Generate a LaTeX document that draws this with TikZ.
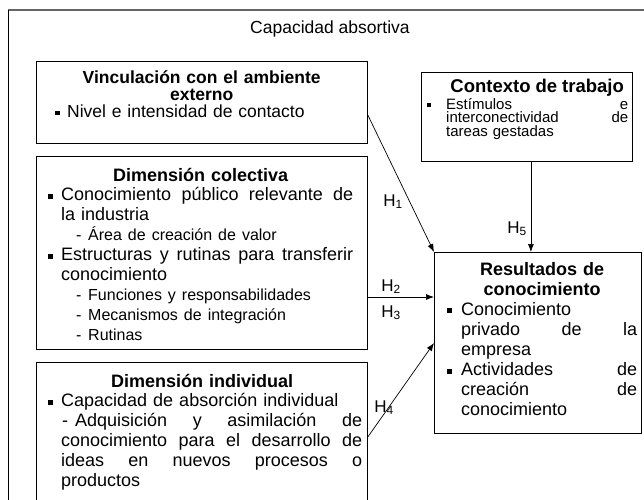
\documentclass[tikz,border=0pt]{standalone}
\usepackage{fontspec}
\setmainfont{Liberation Sans}
\usetikzlibrary{arrows.meta}
\newcommand\bsq[2]{\rule[#1]{#2}{#2}}
\newcommand\jline[2]{{\spaceskip=0.278em plus 1fil\relax\hspace*{#1}\makebox[\dimexpr\linewidth-#1\relax][s]{#2}}}
\newcommand\pline[2]{\hspace*{#1}\makebox[\dimexpr\linewidth-#1\relax][l]{#2}}
\newcommand\ctrline[1]{\makebox[\linewidth]{#1}}
\begin{document}
\begin{tikzpicture}[x=1pt,y=-1pt,
  boxnode/.style={draw, line width=0.8pt, inner sep=0pt, anchor=north west},
  txt/.style={inner sep=0pt, anchor=base west},
  arr/.style={-{Latex[length=8pt,width=6pt]}, line width=0.7pt},
  hlab/.style={inner sep=0pt, anchor=base, font=\fontsize{17}{19}\selectfont}]
\useasboundingbox (0,0) rectangle (644,499);
\begin{scope}
\clip (0,0) rectangle (644,499);
% outer frame
\draw[line width=1.6pt, black!60] (7.6,10) -- (660,10);
\draw[line width=0.8pt] (8,9.5) -- (8,520);
\node[inner sep=0pt, anchor=base, font=\fontsize{17.5}{18}\selectfont] (cap) at (330,33) {Capacidad absortiva};
% boxes
\node[boxnode, minimum width=331pt, minimum height=82pt] (vinc) at (36,61) {};
\node[boxnode, minimum width=331pt, minimum height=193pt] (colec) at (36,156) {};
\node[boxnode, minimum width=331pt, minimum height=170pt] (indiv) at (36,362) {};
\node[boxnode, minimum width=211pt, minimum height=89pt] (ctx) at (421,72) {};
\node[boxnode, minimum width=207pt, minimum height=181pt] (res) at (434,252) {};
% texts
\node[txt, text width=311pt, font=\fontsize{17.5}{17.2}\selectfont] (vinct) at (46,83) {%
\ctrline{\textbf{Vinculación con el ambiente}}\\
\ctrline{\textbf{externo}}\\
\pline{9pt}{\makebox[12pt][l]{\bsq{2pt}{4.5pt}}Nivel e intensidad de contacto}};
\node[txt, text width=305pt, font=\fontsize{18}{19.9}\selectfont] (colect) at (48,181) {%
\ctrline{\textbf{Dimensión colectiva}}\\
\jline{0pt}{\makebox[13pt][l]{\bsq{2pt}{5pt}}Conocimiento público relevante de}\\
\pline{13pt}{la industria}\\
\pline{28pt}{\fontsize{16}{19.9}\selectfont\makebox[12pt][l]{-}Área de creación de valor}\\
\jline{0pt}{\makebox[13pt][l]{\bsq{2pt}{5pt}}Estructuras y rutinas para transferir}\\
\pline{13pt}{conocimiento}\\
\pline{28pt}{\fontsize{16}{19.9}\selectfont\makebox[12pt][l]{-}Funciones y responsabilidades}\\
\pline{28pt}{\fontsize{16}{19.9}\selectfont\makebox[12pt][l]{-}Mecanismos de integración}\\
\pline{28pt}{\fontsize{16}{19.9}\selectfont\makebox[12pt][l]{-}Rutinas}};
\node[txt, text width=314pt, font=\fontsize{18}{19.9}\selectfont] (indivt) at (48,387) {%
\hspace*{-6pt}\makebox[\dimexpr\linewidth+6pt\relax]{\textbf{Dimensión individual}}\\
\pline{0pt}{\makebox[13pt][l]{\bsq{2pt}{5pt}}Capacidad de absorción individual}\\
\jline{14pt}{\makebox[13pt][l]{-}Adquisición y asimilación de}\\
\jline{13pt}{conocimiento para el desarrollo de}\\
\jline{13pt}{ideas en nuevos procesos o}\\
\pline{13pt}{productos}};
\node[txt, text width=201pt, font=\fontsize{15}{13.5}\selectfont] (ctxt) at (427,92) {%
\hspace*{19pt}\makebox[182pt]{\fontsize{18.5}{13.5}\selectfont\textbf{Contexto de trabajo}}\\[1.5pt]
\jline{0pt}{\makebox[19pt][l]{\bsq{2pt}{4pt}}Estímulos e}\\
\jline{19pt}{interconectividad de}\\
\pline{19pt}{tareas gestadas}};
\node[txt, text width=190pt, font=\fontsize{18}{20.1}\selectfont] (rest) at (447,275) {%
\ctrline{\textbf{Resultados de}}\\
\ctrline{\textbf{conocimiento}}\\
\pline{0pt}{\makebox[14pt][l]{\bsq{2pt}{5pt}}Conocimiento}\\
\jline{14pt}{privado de la}\\
\pline{14pt}{empresa}\\
\jline{0pt}{\makebox[14pt][l]{\bsq{2pt}{5pt}}Actividades de}\\
\jline{14pt}{creación de}\\
\pline{14pt}{conocimiento}};
% connectors
\coordinate (h1s) at ([yshift=-54pt]vinc.north east);
\coordinate (h2s) at ([yshift=-141pt]colec.north east);
\coordinate (h4s) at ([yshift=-75pt]indiv.north east);
\draw[arr] (h1s) -- (res.north west);
\draw[arr] (h2s) -- (h2s -| res.west);
\draw[arr] (h4s) -- ([yshift=-91pt]res.north west);
\draw[arr] ([xshift=4pt]ctx.south) -- ([xshift=4pt]ctx.south |- res.north);
% labels
\node[hlab] (l1) at (393,206) {H\textsubscript{1}};
\node[hlab] (l2) at (391,291) {H\textsubscript{2}};
\node[hlab] (l3) at (391,317) {H\textsubscript{3}};
\node[hlab] (l4) at (384,412) {H\textsubscript{4}};
\node[hlab] (l5) at (517,233) {H\textsubscript{5}};
\end{scope}
\end{tikzpicture}
\end{document}
